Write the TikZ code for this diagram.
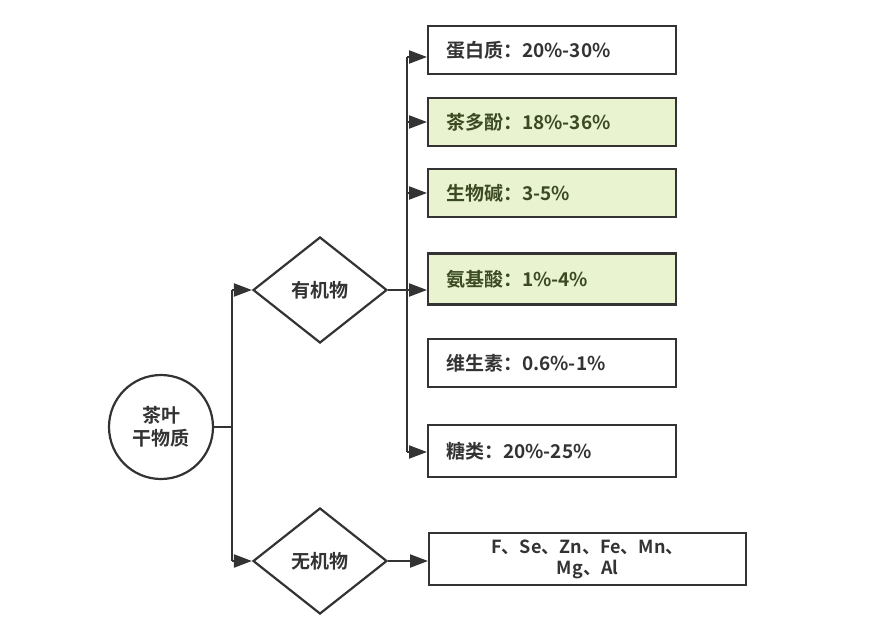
\documentclass[tikz,border=0pt]{standalone}
\usepackage{fontspec}
\setmainfont{Noto Sans CJK SC}[BoldFont={* Bold}]
\usetikzlibrary{shapes.geometric,arrows.meta}
\definecolor{ln}{HTML}{333333}
\definecolor{gfill}{HTML}{E9F3D0}
\definecolor{gtext}{HTML}{3B4A22}
\tikzset{x=1pt,y=-1pt,
 ln/.style={draw=ln,line width=2.2pt},
 arr/.style={ln,-{Triangle[length=18pt,width=13pt]}},
 box/.style={ln,minimum width=248pt,minimum height=48pt,anchor=west,inner sep=0pt,font=\bfseries\fontsize{19}{22}\selectfont,text=ln,align=left,text width=212pt},
 gbox/.style={box,fill=gfill,text=gtext},
 dia/.style={ln,diamond,minimum width=134pt,minimum height=106pt,inner sep=0pt,font=\bfseries\fontsize{19}{22}\selectfont,text=ln,aspect=1.26}}
\begin{document}
\begin{tikzpicture}
\useasboundingbox (0,0) rectangle (881,621);
\node[ln,circle,minimum size=104pt,inner sep=0pt,align=center,font=\bfseries\fontsize{19}{23}\selectfont,text=ln] (c) at (161,427) {茶叶\\干物质};
\coordinate (t) at (232,427);
\coordinate (t1) at (232,290);
\coordinate (t2) at (232,561);
\node[dia] (d1) at (320,290) {有机物};
\node[dia] (d2) at (320,561) {无机物};
\draw[ln] (c) -- (t);
\draw[ln] (t1) -- (t2);
\draw[arr] (t1) -- (d1.west);
\draw[arr] (t2) -- (d2.west);
\node[box] (b1) at (427,50) {蛋白质：20\%-30\%};
\node[gbox] (b2) at (427,122) {茶多酚：18\%-36\%};
\node[gbox] (b3) at (427,193) {生物碱：3-5\%};
\node[gbox,minimum height=51pt] (b4) at (427,279) {氨基酸：1\%-4\%};
\node[box] (b5) at (427,363) {维生素：0.6\%-1\%};
\node[box,minimum height=52pt] (b6) at (427,451) {糖类：20\%-25\%};
\node[box,minimum width=317pt,minimum height=52pt,text width=300pt,align=center,font=\bfseries\fontsize{18}{21}\selectfont] (b7) at (428,559) {F、Se、Zn、Fe、Mn、\\Mg、Al};
\coordinate (bt) at (407,57);
\coordinate (bb) at (407,452);
\coordinate (bm) at (407,290);
\draw[ln] (bt) -- (bb);
\draw[ln] (d1.east) -- (bm);
\foreach \y/\b in {57/b1,122/b2,193/b3,290/b4,452/b6}{
  \coordinate (s\b) at (407,\y);
  \draw[arr] (s\b) -- (s\b -| \b.west);
}
\draw[arr] (d2.east) -- (d2.east -| b7.west);
\end{tikzpicture}
\end{document}
